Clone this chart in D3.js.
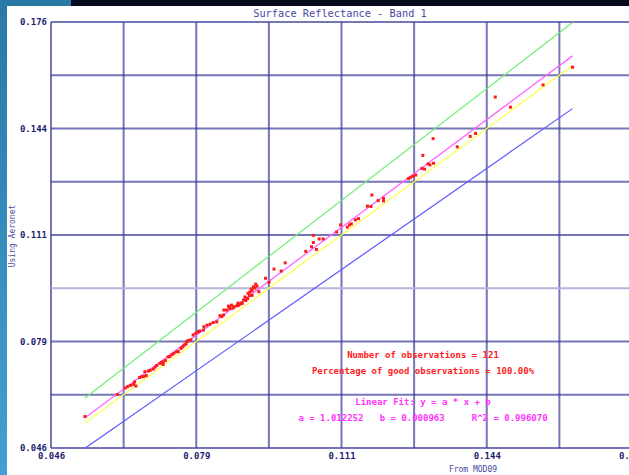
<!DOCTYPE html>
<html><head><meta charset="utf-8">
<script src="https://cdn.jsdelivr.net/npm/d3@7"></script>
<style>html,body{margin:0;padding:0;background:#fff;overflow:hidden}svg{display:block}</style>
</head><body>
<script>
const title = "Surface Reflectance - Band 1";
const xTitle = "From MOD09";
const yTitle = "Using Aeronet";
const domainMin = 0.046, domainMax = 0.176;
const gridStep = 0.01625;
const tickVals = [0.046, 0.0785, 0.111, 0.1435, 0.176];
const tickLabels = ["0.046", "0.079", "0.111", "0.144", "0.176"];
const fitA = 1.012252, fitB = 0.000963, r2 = 0.996070;
const nObs = 121, pctGood = "100.00%";
// MODIS (x) and Aeronet (y) surface reflectance pairs
const modis = [0.0536,0.0608,0.0626,0.0631,0.0638,0.0645,0.0647,0.0650,0.0658,0.0663,0.0667,0.0670,0.0673,0.0678,0.0682,0.0689,0.0693,0.0697,0.0704,0.0708,
0.0711,0.0711,0.0716,0.0722,0.0726,0.0731,0.0735,0.0741,0.0745,0.0751,0.0755,0.0758,0.0762,0.0764,0.0767,0.0773,0.0778,0.0784,0.0790,0.0801,
0.0802,0.0809,0.0816,0.0823,0.0831,0.0838,0.0842,0.0846,0.0853,0.0847,0.0857,0.0859,0.0864,0.0870,0.0876,0.0879,0.0883,0.0887,0.0888,0.0891,
0.0900,0.0901,0.0905,0.0908,0.0910,0.0913,0.0918,0.0925,0.0940,0.0948,0.0959,0.0975,0.0984,0.1030,0.1043,0.1047,0.1047,0.1054,0.1060,0.1069,
0.1099,0.1108,0.1123,0.1128,0.1132,0.1141,0.1148,0.1168,0.1176,0.1178,0.1192,0.1204,0.1204,0.1260,0.1264,0.1270,0.1276,0.1290,0.1296,0.1292,
0.1304,0.1308,0.1316,0.1315,0.1369,0.1398,0.1410,0.1454,0.1488,0.1561,0.1627,0.0894,0.0904,0.0896,0.0878,0.0867,0.0860,0.0916,0.0921,0.0910,0.0793];
const aeronet = [0.0556,0.0623,0.0643,0.0647,0.0651,0.0654,0.0662,0.0649,0.0675,0.0678,0.0678,0.0693,0.0681,0.0695,0.0697,0.0701,0.0707,0.0712,0.0718,0.0721,
0.0723,0.0715,0.0727,0.0738,0.0739,0.0745,0.0749,0.0754,0.0754,0.0764,0.0769,0.0774,0.0777,0.0785,0.0788,0.0790,0.0805,0.0810,0.0815,0.0820,
0.0830,0.0835,0.0838,0.0843,0.0845,0.0864,0.0861,0.0866,0.0881,0.0881,0.0893,0.0889,0.0896,0.0891,0.0894,0.0895,0.0899,0.0902,0.0902,0.0912,
0.0916,0.0932,0.0936,0.0945,0.0926,0.0952,0.0960,0.0937,0.0978,0.0966,0.1006,0.1000,0.1025,0.1060,0.1074,0.1087,0.1109,0.1066,0.1098,0.1098,
0.1119,0.1141,0.1134,0.1141,0.1144,0.1156,0.1160,0.1198,0.1197,0.1232,0.1215,0.1222,0.1214,0.1282,0.1285,0.1289,0.1293,0.1313,0.1311,0.1353,
0.1327,0.1324,0.1329,0.1404,0.1379,0.1411,0.1420,0.1531,0.1500,0.1568,0.1622,0.0921,0.0925,0.0910,0.0902,0.0887,0.0886,0.0948,0.0954,0.0940,0.0817];

const W = 629, H = 475;
const svg = d3.select("body").append("svg").attr("width", W).attr("height", H);
const mono = "'DejaVu Sans Mono', 'Liberation Mono', monospace";

// slide background
svg.append("rect").attr("x",0).attr("y",0).attr("width",W).attr("height",H).attr("fill","#fff");
const grad = svg.append("defs").append("linearGradient").attr("id","lg").attr("x1",0).attr("y1",0).attr("x2",0).attr("y2",1);
grad.append("stop").attr("offset","0%").attr("stop-color","#2a78a6");
grad.append("stop").attr("offset","100%").attr("stop-color","#43a0d2");
svg.append("rect").attr("x",0).attr("y",0).attr("width",7).attr("height",H).attr("fill","url(#lg)");
svg.append("rect").attr("x",0).attr("y",0).attr("width",71).attr("height",6).attr("fill","#2a78a6");
svg.append("rect").attr("x",71).attr("y",0).attr("width",W-71).attr("height",6).attr("fill","#040a1c");

const x = d3.scaleLinear().domain([domainMin, domainMax]).range([51, 632]);
const y = d3.scaleLinear().domain([domainMin, domainMax]).range([448, 22]);

const gridVals = d3.range(9).map(i => domainMin + i * gridStep);
const plot = svg.append("g");
plot.selectAll("line.gv").data(gridVals).join("line")
  .attr("x1", d => x(d)).attr("x2", d => x(d)).attr("y1", y(domainMax)).attr("y2", y(domainMin))
  .attr("stroke", "#3a3a9c").attr("stroke-opacity", 0.7).attr("stroke-width", 2);
plot.selectAll("line.gh").data(gridVals).join("line")
  .attr("x1", x(domainMin)).attr("x2", x(domainMax)).attr("y1", d => y(d)).attr("y2", d => y(d))
  .attr("stroke", (d,i) => i === 3 ? "#b4b4dc" : "#3a3a9c")
  .attr("stroke-opacity", (d,i) => i === 3 ? 1 : 0.7).attr("stroke-width", 2);

// reference lines over data range
const xr = d3.extent(modis);
const lines = [
  {f: v => 1.05 * v + 0.005, c: "#70ee70", w: 1.2},
  {f: v => 0.95 * v - 0.005, c: "#5a5aff", w: 1.2},
  {f: v => v, c: "#ffff50", w: 1.3},
  {f: v => fitA * v + fitB, c: "#ff66ff", w: 1.3}
];
const clip = svg.append("defs").append("clipPath").attr("id","pc");
clip.append("rect").attr("x",51).attr("y",22).attr("width",581).attr("height",426);
const lg = svg.append("g").attr("clip-path","url(#pc)");
lg.selectAll("line").data(lines).join("line")
  .attr("x1", x(xr[0])).attr("x2", x(xr[1]))
  .attr("y1", d => y(d.f(xr[0]))).attr("y2", d => y(d.f(xr[1])))
  .attr("stroke", d => d.c).attr("stroke-width", d => d.w);

// points
svg.append("g").selectAll("rect").data(modis.map((m,i)=>[m, aeronet[i]])).join("rect")
  .attr("x", d => x(d[0]) - 1.5).attr("y", d => y(d[1]) - 1.5)
  .attr("width", 3).attr("height", 3).attr("fill", "#ff1a1a");

// axes (labels only)
const yAxis = d3.axisLeft(y).tickValues(tickVals).tickFormat((d,i) => tickLabels[i]).tickSize(0).tickPadding(4);
const gy = svg.append("g").attr("transform", "translate(51,0)").call(yAxis);
const xAxis = d3.axisBottom(x).tickValues(tickVals).tickFormat((d,i) => tickLabels[i]).tickSize(0).tickPadding(4);
const gx = svg.append("g").attr("transform", "translate(0,449)").call(xAxis);
[gy, gx].forEach(g => {
  g.select(".domain").remove();
  g.selectAll("text").attr("font-family", mono).attr("font-size", 9).attr("font-weight", "bold").attr("fill", "#1c1c70");
});

// titles
svg.append("text").attr("x", 340).attr("y", 17).attr("text-anchor","middle")
  .attr("font-family", mono).attr("font-size", 10.3).attr("fill", "#4848a0").text(title);
svg.append("text").attr("x", 473).attr("y", 472).attr("text-anchor","middle")
  .attr("font-family", mono).attr("font-size", 8).attr("fill", "#4848a0").text(xTitle);
svg.append("text").attr("transform","translate(15,236) rotate(-90)").attr("text-anchor","middle")
  .attr("font-family", mono).attr("font-size", 8).attr("fill", "#4848a0").text(yTitle);

// annotations
const ann = [
  {t: "Number of observations = " + nObs, yy: 358, c: "#ff2020"},
  {t: "Percentage of good observations = " + pctGood, yy: 374, c: "#ff2020"},
  {t: "Linear Fit: y = a * x + b", yy: 405, c: "#ff33ff"},
  {t: "a = " + fitA.toFixed(6) + "   b = " + fitB.toFixed(6) + "     R^2 = " + r2.toFixed(6), yy: 421, c: "#ff33ff"}
];
svg.append("g").selectAll("text").data(ann).join("text")
  .attr("x", 423).attr("y", d => d.yy).attr("text-anchor","middle")
  .attr("font-family", mono).attr("font-size", 9).attr("font-weight","bold")
  .attr("fill", d => d.c).style("white-space","pre").text(d => d.t);
</script>
</body></html>
